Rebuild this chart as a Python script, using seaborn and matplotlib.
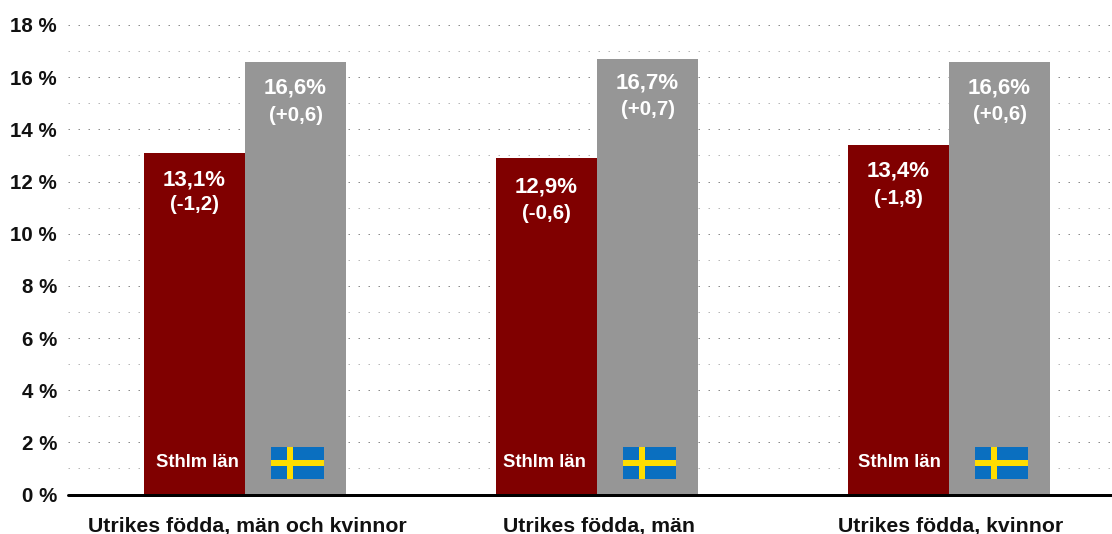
import pandas as pd
import seaborn as sns
import matplotlib.pyplot as plt
from matplotlib.patches import Rectangle
from matplotlib.transforms import ScaledTranslation

categories = ["Utrikes födda, män och kvinnor", "Utrikes födda, män", "Utrikes födda, kvinnor"]
sthlm_values = [13.1, 12.9, 13.4]
sthlm_changes = ["(-1,2)", "(-0,6)", "(-1,8)"]
sweden_values = [16.6, 16.7, 16.6]
sweden_changes = ["(+0,6)", "(+0,7)", "(+0,6)"]
yticks = list(range(0, 19, 2))

#label offsets below the bar top, px (percent line, change line)
sthlm_offsets = [(27, 52), (29, 55), (26, 54)]
sweden_offsets = [(26, 54), (24, 51), (26, 53)]
#sideways nudge of the "Sthlm län" text, px
name_nudge = [3, -2, 1]

W, H = 1112, 534
px = 72 / 100  #one pixel in points

sns.set_theme(style="white")
plt.rcParams["font.family"] = ["Liberation Sans", "DejaVu Sans"]

fig = plt.figure(figsize=(W / 100, H / 100), dpi=100)
ax = fig.add_axes([68 / W, (H - 494.5) / H, (W - 68) / W, (494.5 - 25) / H])

df = pd.DataFrame({
    "category": categories * 2,
    "value": sthlm_values + sweden_values,
    "region": ["Sthlm län"] * 3 + ["Sverige"] * 3,
})
sns.barplot(data=df, x="category", y="value", hue="region", order=categories,
            palette=["#800000", "#969696"], width=0.574, gap=0, saturation=1,
            legend=False, ax=ax, zorder=3, edgecolor="none", linewidth=0)

ax.set_xlim(-0.503, 2.463)
ax.set_ylim(0, 18)
ax.set_xlabel("")
ax.set_ylabel("")

#dotted gridlines, every second one lighter
for y in range(1, 19):
    color = "#8c8c8c" if y % 2 == 0 else "#b8b8b8"
    ax.axhline(y, color=color, lw=px, linestyle=(0, (1.5, 8.5)), zorder=1, clip_on=False)

for s in ["top", "left", "right"]:
    ax.spines[s].set_visible(False)
ax.spines["bottom"].set_color("black")
ax.spines["bottom"].set_linewidth(3 * px)
ax.spines["bottom"].set_zorder(5)
ax.spines["bottom"].set_capstyle("round")

ax.set_yticks(yticks)
ax.set_yticklabels([f"{t} %" for t in yticks], fontsize=14.8, fontweight="bold", color="#111111")
ax.set_xticks(range(3))
ax.set_xticklabels(categories, fontsize=15.3, fontweight="bold", color="#111111")
ax.tick_params(axis="y", length=0, pad=8)
ax.tick_params(axis="x", length=0, pad=16.2)
shift = ScaledTranslation(2 / 100, 0, fig.dpi_scale_trans)
for lab in ax.get_xticklabels():
    lab.set_transform(lab.get_transform() + shift)

bars = [b for b in ax.patches if b.get_width() > 0]
sthlm_bars, sweden_bars = bars[:3], bars[3:6]


def label_bar(bar, value, change, offsets):
    x = bar.get_x() + bar.get_width() / 2
    top = bar.get_height()
    ax.annotate(f"{value:.1f}%".replace(".", ","), (x, top), xytext=(0, -offsets[0] * px),
                textcoords="offset points", ha="center", va="center", color="white",
                fontsize=16, fontweight="bold", zorder=6)
    ax.annotate(change, (x, top), xytext=(0, -offsets[1] * px),
                textcoords="offset points", ha="center", va="center", color="white",
                fontsize=14.8, fontweight="bold", zorder=6)


for i in range(3):
    label_bar(sthlm_bars[i], sthlm_values[i], sthlm_changes[i], sthlm_offsets[i])
    label_bar(sweden_bars[i], sweden_values[i], sweden_changes[i], sweden_offsets[i])

    #region names at the foot of the bars
    b = sthlm_bars[i]
    ax.annotate("Sthlm län", (b.get_x() + b.get_width() / 2, 0), xytext=(name_nudge[i] * px, 32 * px),
                textcoords="offset points", ha="center", va="center", color="white",
                fontsize=13.3, fontweight="bold", zorder=6)

    #swedish flag
    b = sweden_bars[i]
    fx = b.get_x() + b.get_width() / 2 - 0.0695
    fw, fy, fh = 0.151, 0.59, 1.23
    ax.add_patch(Rectangle((fx, fy), fw, fh, color="#0a6fc0", lw=0, zorder=6))
    ax.add_patch(Rectangle((fx + fw * 0.295, fy), fw * 0.125, fh, color="#ffdd00", lw=0, zorder=7))
    ax.add_patch(Rectangle((fx, fy + fh * 0.41), fw, fh * 0.2, color="#ffdd00", lw=0, zorder=7))

fig.savefig("out.png", dpi=100)
